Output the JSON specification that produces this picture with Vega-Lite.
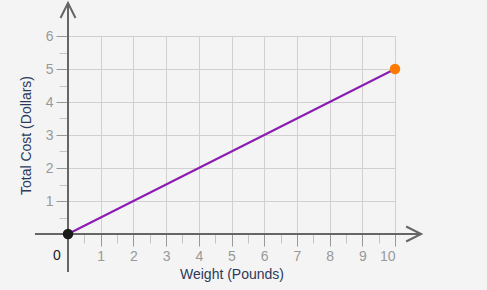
{
  "$schema": "https://vega.github.io/schema/vega-lite/v6.json",
  "width": 327,
  "height": 198,
  "autosize": {"type": "none"},
  "padding": {"left": 68, "top": 36, "right": 92, "bottom": 56},
  "background": "#f4f4f4",
  "config": {
    "view": {"stroke": null},
    "font": "Liberation Sans",
    "axis": {"domain": false, "labelFont": "Liberation Sans", "titleFont": "Liberation Sans"}
  },
  "datasets": {
    "line": [{"w": 0, "c": 0}, {"w": 10, "c": 5}],
    "xaxis": [{"w": -1.01, "w2": 10.8, "c": 0}],
    "yaxis": [{"w": 0, "c": -1.15, "c2": 7.0}],
    "xarrow": [{"w": 10.8, "c": 0}],
    "yarrow": [{"w": 0, "c": 7.0}],
    "start": [{"w": 0, "c": 0, "label": "0"}],
    "end": [{"w": 10, "c": 5}]
  },
  "resolve": {"axis": {"x": "independent", "y": "independent"}},
  "layer": [
    {
      "data": {"name": "line"},
      "mark": {"type": "line", "color": "#8a1cb3", "strokeWidth": 2},
      "encoding": {
        "x": {
          "field": "w", "type": "quantitative",
          "scale": {"domain": [0, 10], "nice": false, "zero": false},
          "axis": {
            "orient": "bottom",
            "values": [1, 2, 3, 4, 5, 6, 7, 8, 9, 10],
            "grid": true, "gridColor": "#d0d0d0", "gridWidth": 1,
            "tickSize": 12, "tickColor": "#999999", "tickWidth": 1,
            "labelColor": "#999999", "labelFontSize": 14, "labelPadding": 3,
            "title": "Weight (Pounds)", "titleColor": "#2b3a5a", "titleFontSize": 14,
            "titleFontWeight": "normal", "titlePadding": 4
          }
        },
        "y": {
          "field": "c", "type": "quantitative",
          "scale": {"domain": [0, 6], "nice": false, "zero": false},
          "axis": {
            "orient": "left",
            "values": [1, 2, 3, 4, 5, 6],
            "grid": true, "gridColor": "#d0d0d0", "gridWidth": 1,
            "tickSize": 12, "tickColor": "#999999", "tickWidth": 1,
            "labelColor": "#999999", "labelFontSize": 14, "labelPadding": 3,
            "title": "Total Cost (Dollars)", "titleColor": "#2b3a5a", "titleFontSize": 14,
            "titleFontWeight": "normal", "titlePadding": 12
          }
        }
      }
    },
    {
      "data": {"name": "xaxis"},
      "mark": {"type": "rule", "color": "#666666", "strokeWidth": 2},
      "encoding": {
        "x": {
          "field": "w", "type": "quantitative",
          "axis": {
            "orient": "bottom",
            "values": [0.5, 1.5, 2.5, 3.5, 4.5, 5.5, 6.5, 7.5, 8.5, 9.5],
            "grid": false, "labels": false, "title": null,
            "tickSize": 9, "tickColor": "#c4c4c4", "tickWidth": 1
          }
        },
        "x2": {"field": "w2"},
        "y": {
          "field": "c", "type": "quantitative",
          "axis": {
            "orient": "left",
            "values": [0.5, 1.5, 2.5, 3.5, 4.5, 5.5],
            "grid": false, "labels": false, "title": null,
            "tickSize": 9, "tickColor": "#c4c4c4", "tickWidth": 1
          }
        }
      }
    },
    {
      "data": {"name": "yaxis"},
      "mark": {"type": "rule", "color": "#666666", "strokeWidth": 2},
      "encoding": {
        "x": {"field": "w", "type": "quantitative", "axis": null},
        "y": {"field": "c", "type": "quantitative", "axis": null},
        "y2": {"field": "c2"}
      }
    },
    {
      "data": {"name": "xarrow"},
      "mark": {"type": "point", "shape": "M-2,-1L0,0L-2,1", "size": 225, "filled": false, "stroke": "#666666", "strokeWidth": 2, "opacity": 1},
      "encoding": {
        "x": {"field": "w", "type": "quantitative", "axis": null},
        "y": {"field": "c", "type": "quantitative", "axis": null}
      }
    },
    {
      "data": {"name": "yarrow"},
      "mark": {"type": "point", "shape": "M-1,2L0,0L1,2", "size": 225, "filled": false, "stroke": "#666666", "strokeWidth": 2, "opacity": 1},
      "encoding": {
        "x": {"field": "w", "type": "quantitative", "axis": null},
        "y": {"field": "c", "type": "quantitative", "axis": null}
      }
    },
    {
      "data": {"name": "start"},
      "mark": {"type": "point", "shape": "circle", "size": 110, "filled": true, "color": "#1a1a1a", "opacity": 1},
      "encoding": {
        "x": {"field": "w", "type": "quantitative", "axis": null},
        "y": {"field": "c", "type": "quantitative", "axis": null}
      }
    },
    {
      "data": {"name": "start"},
      "mark": {"type": "text", "fontSize": 14, "color": "#222222", "dx": -11, "dy": 22, "align": "center", "baseline": "middle"},
      "encoding": {
        "x": {"field": "w", "type": "quantitative", "axis": null},
        "y": {"field": "c", "type": "quantitative", "axis": null},
        "text": {"field": "label"}
      }
    },
    {
      "data": {"name": "end"},
      "mark": {"type": "point", "shape": "circle", "size": 110, "filled": true, "color": "#ff7b00", "opacity": 1},
      "encoding": {
        "x": {"field": "w", "type": "quantitative", "axis": null},
        "y": {"field": "c", "type": "quantitative", "axis": null}
      }
    }
  ]
}
